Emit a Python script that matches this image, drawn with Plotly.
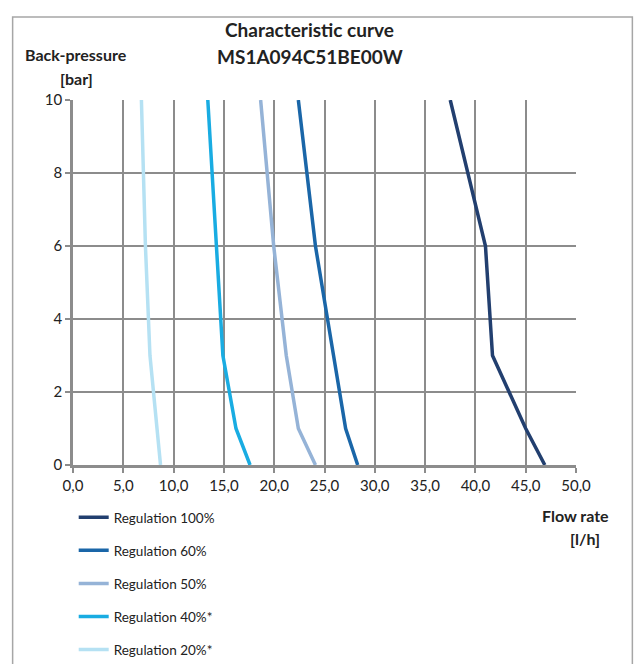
import plotly.graph_objects as go

pressure = [0, 1, 3, 6, 10]
flow_100 = [46.9, 45.0, 41.7, 41.0, 37.5]
flow_60 = [28.3, 27.1, 25.9, 24.1, 22.4]
flow_50 = [24.1, 22.4, 21.2, 19.95, 18.65]
flow_40 = [17.6, 16.2, 14.9, 14.25, 13.4]
flow_20 = [8.7, 8.35, 7.65, 7.2, 6.8]

names = ["Regulation 100%", "Regulation 60%", "Regulation 50%", "Regulation 40%*", "Regulation 20%*"]
series = [flow_100, flow_60, flow_50, flow_40, flow_20]
colors = ["#223F6F", "#1A66A8", "#95B3D7", "#19ACE2", "#B5E1F3"]

x_ticks = [0, 5, 10, 15, 20, 25, 30, 35, 40, 45, 50]
y_ticks = [0, 2, 4, 6, 8, 10]

FONT = "Lato, 'Open Sans', sans-serif"

fig = go.Figure()
for i, (n, s, c) in enumerate(zip(names, series, colors)):
    fig.add_trace(go.Scatter(x=s, y=pressure, mode="lines", name=n,
                             legendgroup=str(i),
                             line=dict(color=c, width=3.5)))

W, H = 635, 664
L, R, T, B = 73.3, 59.3, 100, 199
pw, ph = W - L - R, H - T - B

def px(xp):
    return (xp - L) / pw

def py(yp):
    return (H - B - yp) / ph

def label(text, x, y, size):
    return dict(text=text, xref="paper", yref="paper", x=px(x), y=py(y),
                xanchor="center", yanchor="middle", showarrow=False,
                font=dict(size=size))

fig.update_layout(
    width=W, height=H,
    margin=dict(l=L, r=R, t=T, b=B, autoexpand=False),
    paper_bgcolor="white", plot_bgcolor="white",
    separators=", ",
    font=dict(family=FONT, size=15, color="#222222"),
    showlegend=True,
    legend=dict(x=px(74), y=py(502), xanchor="left", yanchor="top",
                font=dict(size=13.5, family=FONT, color="#222"),
                tracegroupgap=12.5, itemwidth=30, bgcolor="rgba(0,0,0,0)"),
    xaxis=dict(range=[0, 50], tickvals=x_ticks, tickformat=".1f",
               showgrid=True, gridcolor="#8C8C8C", gridwidth=1.5,
               showline=True, linecolor="#8C8C8C", linewidth=2.5,
               ticks="outside", ticklen=5, tickcolor="#8C8C8C", tickwidth=2,
               mirror=False, zeroline=False, tickfont=dict(size=15)),
    yaxis=dict(range=[0, 10], tickvals=y_ticks,
               showgrid=True, gridcolor="#8C8C8C", gridwidth=1.5,
               showline=True, linecolor="#8C8C8C", linewidth=2.5,
               ticks="outside", ticklen=5, tickcolor="#8C8C8C", tickwidth=2,
               zeroline=False, tickfont=dict(size=15)),
    shapes=[dict(type="rect", xref="paper", yref="paper",
                 x0=px(13), x1=px(632), y0=py(700), y1=py(17),
                 line=dict(color="#A6A6A6", width=1.5), layer="below")],
    annotations=[
        label("<b>Characteristic curve</b>", 310, 30, 19),
        label("<b>MS1A094C51BE00W</b>", 310, 56, 19),
        label("<b>Back-pressure</b>", 76, 55, 16),
        label("<b>[bar]</b>", 77, 78, 16),
        label("<b>Flow rate</b>", 575, 515, 16),
        label("<b>[l/h]</b>", 585, 538, 16),
    ],
)

fig.write_html("out.html", config={"displayModeBar": False},
               post_script="document.body.style.margin='0';")
